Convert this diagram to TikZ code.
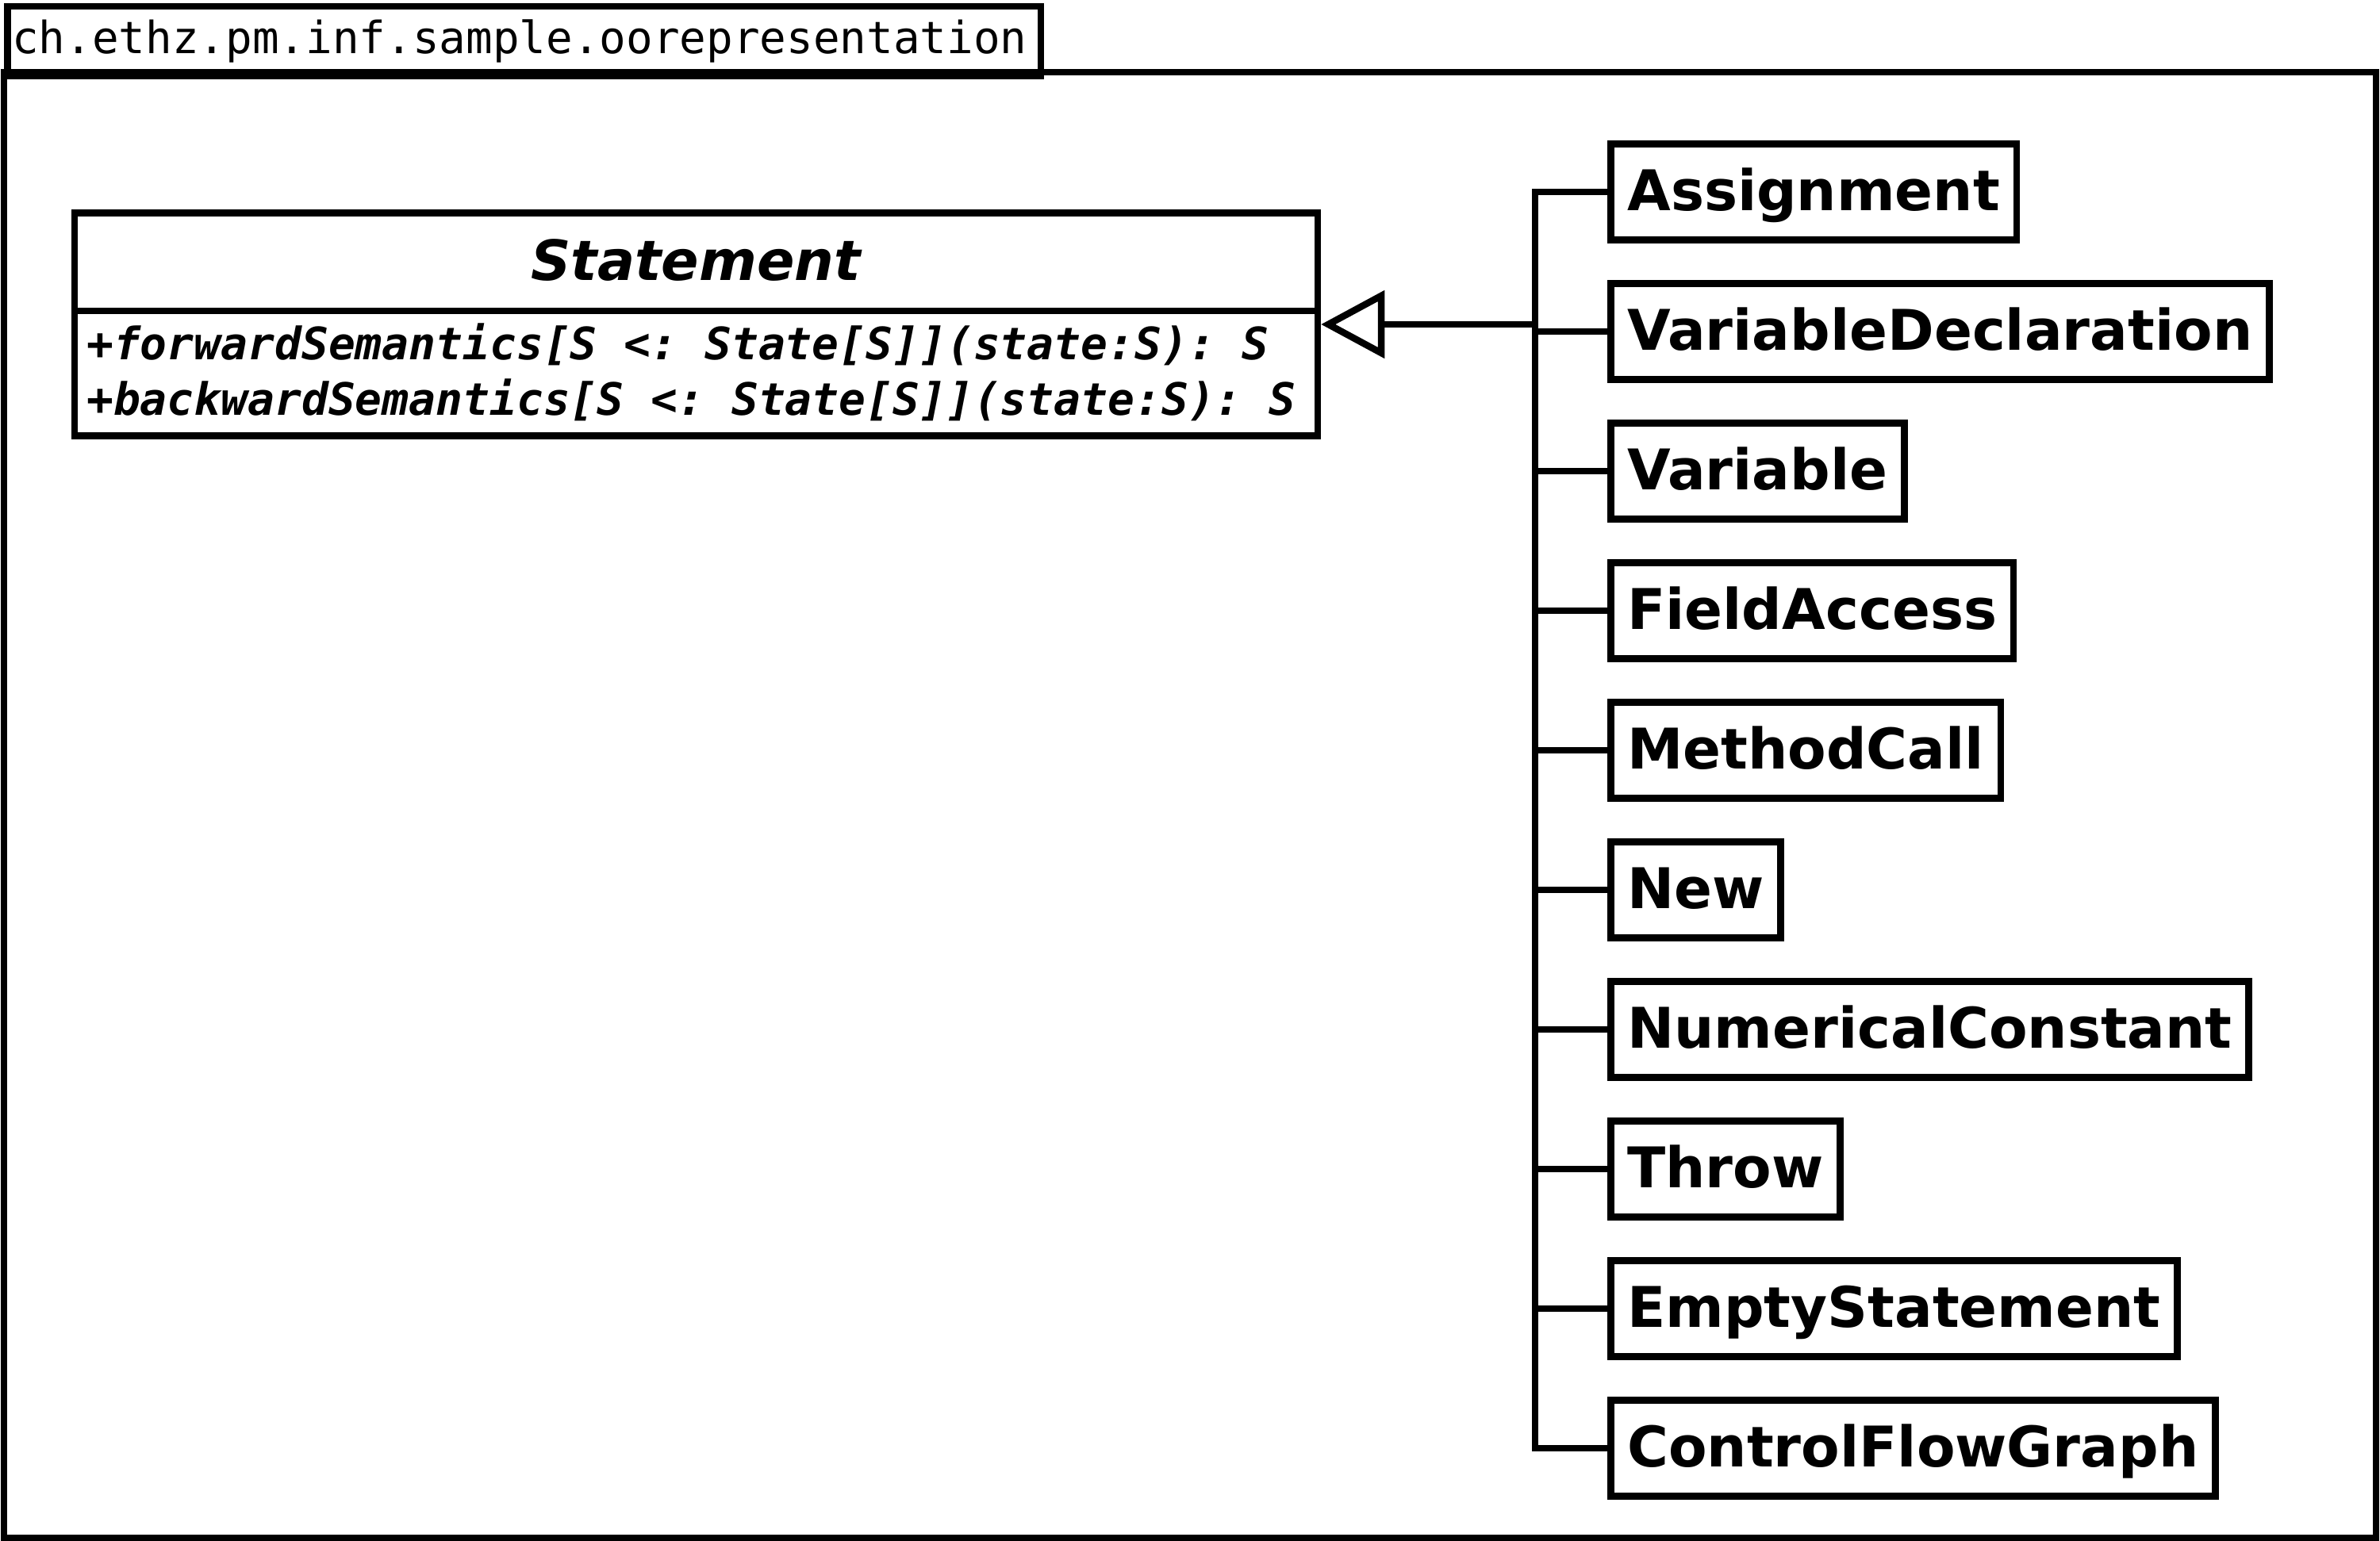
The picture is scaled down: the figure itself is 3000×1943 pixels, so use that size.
\documentclass[tikz,border=0pt]{standalone}
\usepackage{fontspec}
\setmainfont{DejaVu Sans}
\setmonofont{DejaVu Sans Mono}
\usetikzlibrary{arrows.meta}
\begin{document}
\begin{tikzpicture}[x=0.01cm,y=-0.01cm,line width=0.085cm,
  clsbox/.style={draw,anchor=west,minimum height=1.21cm,inner xsep=0.21cm,inner ysep=0pt,
    text height=0.47cm,text depth=0pt,font=\fontsize{20.1}{24}\selectfont\bfseries},
  monotext/.style={inner sep=0pt,font=\fontsize{15.9}{19}\selectfont\ttfamily},
  methtext/.style={inner sep=0pt,anchor=base west,font=\fontsize{16}{19}\selectfont\ttfamily\bfseries\itshape},
  branch/.style={line join=miter},
  genarrow/.style={-{Triangle[open,length=0.8cm,width=0.84cm]}}
]
\useasboundingbox (0,0) rectangle (3000,1943);
% package frame and tab
\draw (5,91) rectangle (2995,1939);
\node[draw,anchor=north west,minimum width=13.02cm,minimum height=0.87cm,inner sep=0pt] (tab) at (5,4) {};
\node[monotext,anchor=base west] (tabtext) at (11,68) {ch.ethz.pm.inf.sample.oorepresentation};
% Statement class
\node[draw,minimum width=15.66cm,minimum height=2.81cm,inner sep=0pt] (stmt) at (877.5,409) {};
\draw (stmt.west |- 0,392) -- (stmt.east |- 0,392);
\node[inner sep=0pt,anchor=base,font=\fontsize{19.9}{24}\selectfont\bfseries\itshape] (stmttitle) at (877,354) {Statement};
\node[methtext] (m1) at (105,454) {+forwardSemantics[S <: State[S]](state:S): S};
\node[methtext] (m2) at (105,524) {+backwardSemantics[S <: State[S]](state:S): S};
% subclasses
\node[clsbox] (c1) at (2026,242) {Assignment};
\node[clsbox] (c2) at (2026,418) {VariableDeclaration};
\node[clsbox] (c3) at (2026,594) {Variable};
\node[clsbox] (c4) at (2026,770) {FieldAccess};
\node[clsbox] (c5) at (2026,946) {MethodCall};
\node[clsbox] (c6) at (2026,1122) {New};
\node[clsbox] (c7) at (2026,1298) {NumericalConstant};
\node[clsbox] (c8) at (2026,1474) {Throw};
\node[clsbox] (c9) at (2026,1650) {EmptyStatement};
\node[clsbox] (c10) at (2026,1826) {ControlFlowGraph};
\coordinate (trunk) at (1935,0);
\draw[branch] (c1.west) -- (c1.west -| trunk) -- (c10.west -| trunk) -- (c10.west);
\foreach \i in {2,...,9} {
  \draw (c\i.west -| trunk) -- (c\i.west);
}
\draw[genarrow] (stmt.east -| trunk) -- (stmt.east);
\end{tikzpicture}
\end{document}
